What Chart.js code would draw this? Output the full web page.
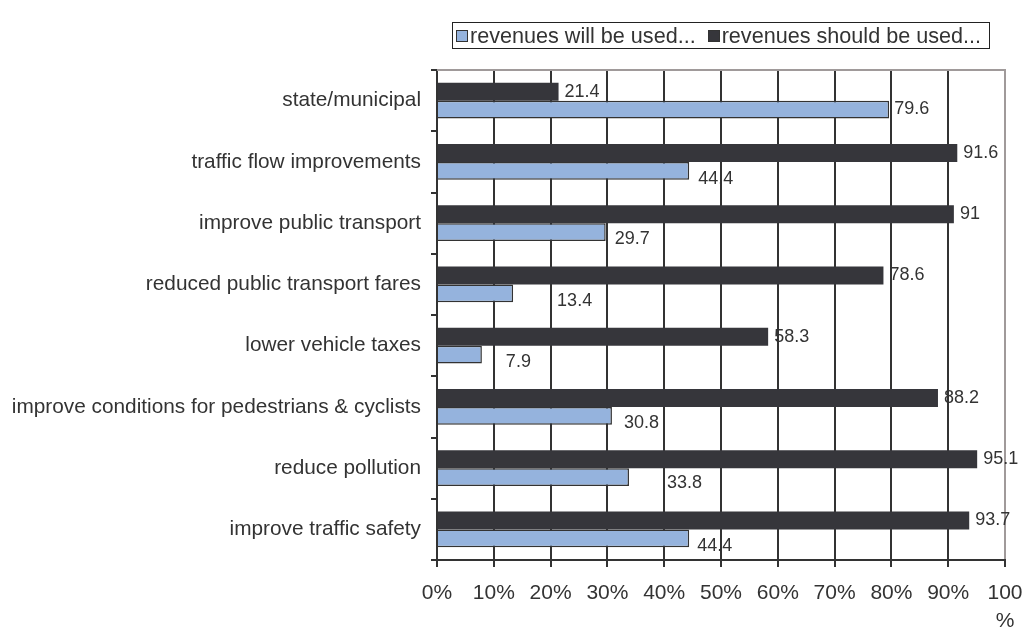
<!DOCTYPE html>
<html>
<head>
<meta charset="utf-8">
<script src="https://cdn.jsdelivr.net/npm/chart.js@4/dist/chart.umd.min.js"></script>
<style>
  html, body { margin:0; padding:0; background:#fff; }
  #wrap { position:relative; width:1026px; height:629px; }
  #legend {
    position:absolute; left:452px; top:22px; width:536px; height:25px;
    border:1.5px solid #222; font:21.6px "Liberation Sans", Arial, sans-serif; color:#333;
    display:flex; align-items:center; white-space:nowrap;
  }
  #legend .sw { display:inline-block; width:10px; height:10px; border:1.5px solid #333; margin:0 2px 0 3px; }
  #legend .item { display:flex; align-items:center; margin-right:9px; }
</style>
</head>
<body>
<div id="wrap">
  <canvas id="c" width="1026" height="629"></canvas>
  <div id="legend">
    <span class="item"><span class="sw" style="background:#95b3dd"></span>revenues will be used...</span>
    <span class="item"><span class="sw" style="background:#36363b"></span>revenues should be used...</span>
  </div>
</div>
<script>
const categories = ['state/municipal','traffic flow improvements','improve public transport','reduced public transport fares','lower vehicle taxes','improve conditions for pedestrians & cyclists','reduce pollution','improve traffic safety'];
const willBeUsed = [79.6, 44.4, 29.7, 13.4, 7.9, 30.8, 33.8, 44.4];
const shouldBeUsed = [21.4, 91.6, 91, 78.6, 58.3, 88.2, 95.1, 93.7];
const xTicks = ['0%','10%','20%','30%','40%','50%','60%','70%','80%','90%','100%'];

// where Excel dropped the "will be used" labels (px from bar end)
const willLabelDx = [5, 9, 9, 44, 24, 12, 38, 8];
const willLabelDy = [0, 8, 7, 8, 8, 7, 6, 8];

const FONT = '"Liberation Sans", Arial, sans-serif';
const TXT = '#333';

const valueLabels = {
  id:'valueLabels',
  afterDatasetsDraw(chart) {
    const ctx = chart.ctx;
    ctx.save();
    ctx.font = '18px ' + FONT;
    ctx.fillStyle = TXT;
    ctx.textAlign = 'left';
    ctx.textBaseline = 'middle';
    chart.data.datasets.forEach((ds, i) => {
      chart.getDatasetMeta(i).data.forEach((bar, j) => {
        const dx = i === 0 ? 6 : willLabelDx[j];
        const dy = i === 0 ? 0 : willLabelDy[j];
        ctx.fillText(String(ds.data[j]), bar.x + dx, bar.y + dy);
      });
    });
    ctx.restore();
  }
};

const topBorder = {
  id:'topBorder',
  beforeDatasetsDraw(chart) {
    const a = chart.chartArea, ctx = chart.ctx;
    ctx.save();
    ctx.strokeStyle = '#a09a9a';
    ctx.lineWidth = 2;
    ctx.beginPath();
    ctx.moveTo(a.left, a.top);
    ctx.lineTo(a.right + 1, a.top);
    ctx.stroke();
    ctx.restore();
  }
};

new Chart(document.getElementById('c'), {
  type:'bar',
  data:{
    labels: categories,
    datasets:[
      {label:'revenues should be used...', data:shouldBeUsed, backgroundColor:'#36363b', borderColor:'#36363b', borderWidth:0},
      {label:'revenues will be used...', data:willBeUsed, backgroundColor:'#95b3dd', borderColor:'#333', borderWidth:1.5}
    ]
  },
  options:{
    indexAxis:'y',
    responsive:false,
    animation:false,
    categoryPercentage:0.58,
    barPercentage:1,
    layout:{ padding:{ top:70, right:21, bottom:0, left:0 } },
    plugins:{ legend:{ display:false }, tooltip:{ enabled:false } },
    scales:{
      x:{
        min:0, max:100,
        afterFit(s){ s.height = 69; s.paddingRight = 0; s.paddingLeft = 0; },
        ticks:{
          stepSize:10, color:TXT, padding:12,
          font:{ family:FONT, size:21, lineHeight:1.333 },
          maxRotation:0, autoSkip:false,
          callback:(v, i) => i === xTicks.length - 1 ? ['100','%'] : xTicks[i]
        },
        grid:{
          color: c => (c.tick && c.tick.value === 100) ? '#a09a9a' : '#333',
          tickColor:'#333', lineWidth:2, tickLength:7
        },
        border:{ color:'#333', width:2 }
      },
      y:{
        afterFit(s){ s.width = 437; },
        ticks:{ color:TXT, padding:10, font:{ family:FONT, size:20.8 } },
        grid:{ drawOnChartArea:false, color:'#333', lineWidth:2, tickLength:6 },
        border:{ color:'#333', width:2 }
      }
    }
  },
  plugins:[topBorder, valueLabels]
});
</script>
</body>
</html>
